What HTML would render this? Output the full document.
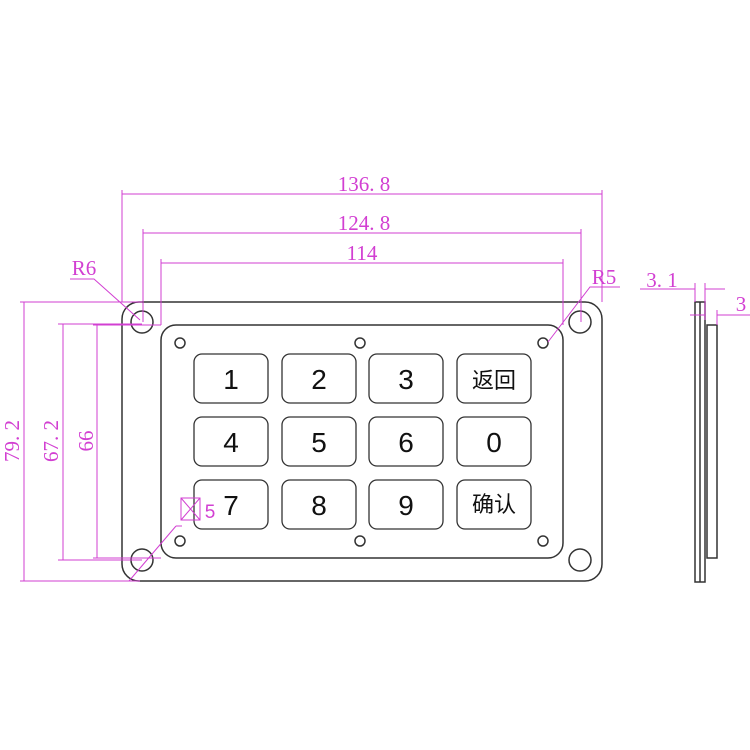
<!DOCTYPE html>
<html><head><meta charset="utf-8"><style>body{margin:0;background:#fff}svg{display:block}</style></head><body>
<svg width="750" height="750" viewBox="0 0 750 750" xmlns="http://www.w3.org/2000/svg">
<g fill="none" stroke="#333" stroke-width="1.5">
<rect x="122" y="302" width="480" height="279" rx="17"/>
<rect x="161" y="325" width="402" height="233" rx="15"/>
<circle cx="142" cy="322" r="11"/><circle cx="580" cy="322" r="11"/>
<circle cx="142" cy="560" r="11"/><circle cx="580" cy="560" r="11"/>
<circle cx="180" cy="343" r="5"/><circle cx="360" cy="343" r="5"/><circle cx="543" cy="343" r="5"/>
<circle cx="180" cy="541" r="5"/><circle cx="360" cy="541" r="5"/><circle cx="543" cy="541" r="5"/>
<g stroke-width="1.3">
<rect x="194" y="354" width="74" height="49" rx="8"/><rect x="282" y="354" width="74" height="49" rx="8"/><rect x="369" y="354" width="74" height="49" rx="8"/><rect x="457" y="354" width="74" height="49" rx="8"/>
<rect x="194" y="417" width="74" height="49" rx="8"/><rect x="282" y="417" width="74" height="49" rx="8"/><rect x="369" y="417" width="74" height="49" rx="8"/><rect x="457" y="417" width="74" height="49" rx="8"/>
<rect x="194" y="480" width="74" height="49" rx="8"/><rect x="282" y="480" width="74" height="49" rx="8"/><rect x="369" y="480" width="74" height="49" rx="8"/><rect x="457" y="480" width="74" height="49" rx="8"/>
</g>
<rect x="695" y="302" width="10" height="280"/><line x1="700" y1="302" x2="700" y2="582"/>
<rect x="707" y="325" width="10" height="233"/>
</g>
<g font-family="'Liberation Sans','Noto Sans CJK SC',sans-serif" font-size="28" fill="#111" text-anchor="middle">
<text x="231" y="389">1</text><text x="319" y="389">2</text><text x="406" y="389">3</text>
<text x="231" y="452">4</text><text x="319" y="452">5</text><text x="406" y="452">6</text><text x="494" y="452">0</text>
<text x="231" y="515">7</text><text x="319" y="515">8</text><text x="406" y="515">9</text>
<text x="494" y="388" font-size="22">返回</text><text x="494" y="512" font-size="22">确认</text>
</g>
<g stroke="#d23fd2" stroke-width="1" fill="none">
<line x1="122" y1="190" x2="122" y2="302"/><line x1="602" y1="190" x2="602" y2="302"/><line x1="122" y1="194" x2="602" y2="194"/>
<line x1="143" y1="229" x2="143" y2="322"/><line x1="581" y1="229" x2="581" y2="322"/><line x1="143" y1="233" x2="581" y2="233"/>
<line x1="161" y1="259" x2="161" y2="325"/><line x1="563" y1="259" x2="563" y2="325"/><line x1="161" y1="263" x2="563" y2="263"/>
<line x1="20" y1="302" x2="142" y2="302"/><line x1="20" y1="581" x2="140" y2="581"/><line x1="24" y1="302" x2="24" y2="581"/>
<line x1="58" y1="324" x2="142" y2="324"/><line x1="58" y1="560" x2="142" y2="560"/><line x1="63" y1="324" x2="63" y2="560"/>
<line x1="93" y1="325" x2="161" y2="325"/><line x1="93" y1="558" x2="161" y2="558"/><line x1="97" y1="325" x2="97" y2="558"/>
<polyline points="70,279 94,279 140,320"/>
<polyline points="620,287 590,287 548,342"/>
<line x1="129" y1="581" x2="176" y2="526"/><line x1="176" y1="526" x2="182" y2="526"/>
<rect x="181" y="498" width="19" height="22"/><line x1="181" y1="498" x2="200" y2="520"/><line x1="200" y1="498" x2="181" y2="520"/>
<polyline points="640,289 695,289"/><line x1="705" y1="289" x2="725" y2="289"/>
<line x1="690" y1="315" x2="705" y2="315"/><line x1="717" y1="315" x2="750" y2="315"/>
<line x1="695" y1="283" x2="695" y2="302"/><line x1="705" y1="283" x2="705" y2="320"/><line x1="717" y1="310" x2="717" y2="325"/>
</g>
<g font-family="'Liberation Serif',serif" font-size="21" fill="#d23fd2" text-anchor="middle">
<text x="364" y="191">136. 8</text><text x="364" y="230">124. 8</text><text x="362" y="260">114</text>
<text x="84" y="275">R6</text><text x="604" y="284">R5</text>
<text x="662" y="287">3. 1</text><text x="741" y="311">3</text>
<text x="210" y="518" font-family="'Liberation Sans',sans-serif" font-size="19">5</text>
<text transform="translate(19,441) rotate(-90)">79. 2</text>
<text transform="translate(58,441) rotate(-90)">67. 2</text>
<text transform="translate(93,441) rotate(-90)">66</text>
</g>
</svg>
</body></html>
